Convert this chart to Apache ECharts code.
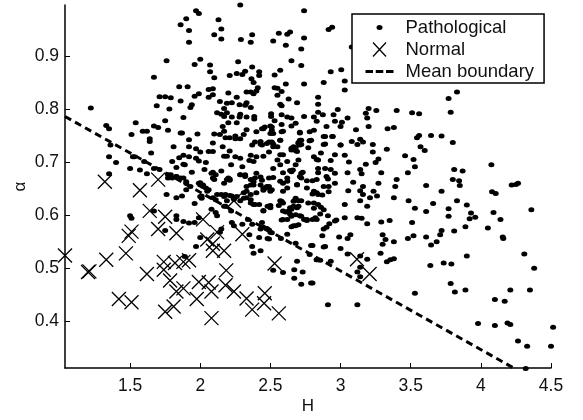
<!DOCTYPE html>
<html>
<head>
<meta charset="utf-8">
<style>html,body{margin:0;padding:0;background:#fff}#chart{width:583px;height:420px}</style>
<script src="https://cdn.jsdelivr.net/npm/echarts@6/dist/echarts.min.js"></script>
</head>
<body>
<div id="chart"></div>
<script>
// values: [H, alpha]
const pathological = [
[1.22,.802],[1.33,.769],[1.35,.763],[1.36,.732],[1.35,.710],[1.40,.699],[1.35,.678],[1.51,.752],[1.54,.774],[1.59,.758],[1.62,.758],[1.64,.744],[1.64,.739],[1.65,.717],[1.52,.710],[1.53,.710],[1.50,.688],[1.57,.685],[1.60,.701],[1.62,.678],[1.67,.688],[1.71,.686],
[1.67,.860],[1.76,.891],[1.85,.842],[1.91,.842],[1.86,.815],[1.71,.823],[1.75,.823],[1.79,.821],[1.69,.806],[1.78,.800],[1.75,.778],[1.67,.768],[1.70,.765],[1.77,.760],[1.88,.784],[1.94,.808],[1.93,.803],[1.96,.824],[1.99,.829],[1.86,.755],[1.87,.755],[1.98,.753],[1.92,.742],[1.81,.729],[1.92,.729],[1.88,.713],[1.92,.710],[1.85,.708],[1.80,.701],[1.83,.690],[1.88,.696],[1.89,.695],[1.97,.725],[2.00,.719],[1.97,.707],[1.99,.702],[2.04,.699],[2.03,.686],[1.94,.681],[1.77,.670],[1.79,.676],[1.83,.673],[1.86,.670],[1.90,.663],
[1.86,.959],[1.90,.970],[1.92,.948],[1.92,.926],[1.97,.985],[1.99,.980],[1.96,.884],[2.00,.894],[2.07,.883],[2.07,.870],[2.10,.859],[2.06,.837],[2.09,.838],[2.06,.822],[2.09,.827],[2.14,.814],[2.13,.968],[2.15,.951],[2.10,.940],[2.15,.932],[2.285,.996],[2.29,.931],[2.27,.889],[2.26,.867],[2.30,.865],[2.32,.871],[2.37,.879],[2.42,.870],[2.42,.863],[2.21,.863],[2.365,.857],[2.38,.850],[2.41,.840],[2.40,.834],[2.33,.832],[2.36,.832],[2.38,.829],[2.20,.830],[2.26,.822],[2.225,.812],[2.19,.811],[2.17,.801],[2.28,.808],[2.33,.812],[2.32,.807],[2.36,.803],[2.12,.793],[2.15,.790],[2.17,.786],[2.19,.793],[2.225,.785],[2.285,.790],[2.28,.785],[2.33,.785],[2.385,.786],[2.385,.781],[2.16,.767],[2.20,.774],[2.26,.774],[2.33,.761],[2.10,.753],[2.14,.752],[2.17,.758],[2.18,.746],[2.21,.746],[2.25,.749],[2.25,.744],[2.285,.744],[2.31,.752],[2.09,.736],[2.16,.729],[2.06,.720],[2.09,.720],[2.17,.711],[2.21,.721],[2.19,.711],[2.25,.710],[2.285,.707],[2.22,.695],[2.30,.691],[2.15,.683],[2.09,.681],[2.11,.676],[2.10,.667],[2.21,.668],[2.19,.667],[2.285,.676],[2.32,.676],[2.36,.713],[2.35,.703],[2.38,.701],[2.40,.710],[2.45,.711],[2.49,.719],[2.37,.732],[2.39,.738],[2.43,.739],[2.43,.734],[2.49,.738],[2.52,.734],[2.57,.741],[2.52,.729],[2.45,.763],[2.40,.757],[2.50,.768],[2.51,.760],[2.58,.757],[2.505,.791],[2.505,.786],[2.53,.778],[2.58,.771],[2.57,.809],[2.58,.806],[2.63,.819],[2.69,.812],[2.55,.826],[2.58,.833],[2.53,.840],[2.55,.839],[2.61,.847],[2.74,.847],[2.53,.864],[2.57,.873],[2.65,.891],[2.72,.882],[2.72,.913],[2.61,.920],[2.52,.928],[2.56,.943],[2.62,.941],[2.64,.945],[2.74,.934],[2.74,.985],[2.36,.926],[2.37,.940],[2.58,.789],[2.62,.785],[2.65,.783],[2.74,.786],[2.65,.768],[2.68,.773],[2.71,.755],[2.81,.785],[2.83,.777],[2.84,.822],[2.84,.809],[2.84,.794],[2.81,.760],[2.78,.757],[2.78,.740],[2.57,.714],[2.59,.714],[2.62,.701],[2.55,.704],[2.57,.695],[2.52,.688],[2.59,.680],[2.64,.684],[2.66,.685],[2.68,.695],[2.70,.704],[2.65,.726],[2.68,.722],[2.71,.732],[2.70,.737],[2.72,.741],[2.77,.727],[2.81,.710],[2.83,.705],[2.73,.681],[2.71,.673],[2.62,.670],[2.52,.671],[2.49,.670],[2.40,.679],[2.43,.672],[2.36,.667],[2.38,.663],[2.76,.665],[2.83,.667],
[2.915,.950],[2.94,.954],[3.08,.917],[2.93,.870],[3.005,.874],[2.88,.850],[3.03,.853],[3.03,.836],[2.874,.789],[2.95,.789],[2.98,.799],[2.96,.777],[3.01,.775],[3.05,.783],[3.00,.767],[2.90,.767],[3.20,.801],[3.18,.792],[3.255,.797],[3.19,.783],[3.20,.767],[3.11,.761],[3.40,.797],[3.51,.793],[3.56,.791],[3.335,.763],[3.38,.765],[3.56,.750],[3.545,.746],[3.645,.750],[3.72,.749],[3.80,.737],[3.57,.729],[3.60,.722],[3.46,.712],[3.52,.705],[3.53,.691],[3.48,.680],[3.33,.724],[3.23,.733],[3.23,.719],[3.27,.706],[3.25,.699],[3.18,.696],[3.14,.686],[3.15,.678],[3.29,.680],[3.40,.667],[3.27,.660],[3.09,.662],[3.16,.654],[3.39,.654],[3.05,.680],[2.96,.679],[2.93,.686],[2.89,.688],[2.84,.688],[2.84,.680],[2.90,.673],[2.91,.668],[2.80,.665],[2.96,.660],[2.915,.654],[2.88,.654],[3.06,.700],[3.03,.713],[2.96,.714],[2.93,.703],[2.86,.717],[2.84,.704],[3.08,.739],[3.12,.733],[3.14,.743],[3.16,.738],[3.00,.732],[2.88,.748],[2.945,.748],[2.89,.734],[2.79,.741],[3.77,.820],[3.83,.832],[3.785,.794],[3.81,.686],[3.87,.683],[3.80,.667],[3.845,.665],[3.85,.656],[4.075,.695],[4.22,.657],[4.25,.658],[4.265,.660],[3.61,.656],
[3.72,.645],[4.08,.644],[4.106,.641],[3.485,.627],[3.53,.613],[3.66,.622],[3.61,.607],[3.77,.612],[3.83,.627],[3.90,.619],[3.93,.604],[3.77,.598],[3.92,.593],[3.96,.596],[4.09,.605],[4.14,.592],[4.36,.610],[4.05,.576],[3.89,.578],[3.81,.570],[3.72,.571],[3.71,.563],[3.51,.586],[3.35,.590],[3.29,.587],[3.38,.633],[3.26,.636],[3.19,.617],[3.14,.627],[3.16,.639],[3.21,.633],[3.235,.645],[3.14,.646],[3.055,.646],[3.03,.620],[3.03,.595],[2.97,.591],[2.96,.589],[2.92,.584],[2.91,.599],[2.88,.610],[2.86,.615],[2.81,.613],[2.81,.623],[2.83,.592],[2.80,.592],[2.88,.574],[2.90,.577],[3.12,.595],[3.15,.594],[3.19,.584],[3.30,.563],[3.32,.554],[3.30,.545],[3.38,.550],[3.48,.556],[3.52,.561],[3.61,.559],[3.645,.544],[3.685,.550],[4.156,.559],[4.16,.556],[3.07,.563],[3.05,.556],[2.99,.559],[2.87,.561],[2.80,.543],[2.88,.540],[2.89,.541],[3.00,.537],[3.05,.527],[3.14,.523],[3.19,.517],[3.285,.528],[3.33,.512],[3.355,.516],[3.38,.518],[3.90,.523],[3.735,.510],[3.79,.508],[3.64,.505],[4.31,.527],[4.38,.500],[3.14,.502],[3.12,.493],[3.14,.484],[2.93,.513],[2.83,.516],[2.855,.515],[2.80,.472],[3.785,.471],[3.815,.455],[3.89,.459],[3.53,.453],[4.21,.459],[4.35,.459],[4.10,.441],[4.17,.438],[2.91,.431],[3.12,.431],[3.98,.396],[4.10,.392],[4.19,.397],[4.21,.394],[4.515,.389],[4.265,.363],[4.33,.353],[4.50,.353],[4.32,.311],[2.83,.642],[2.87,.638],[2.915,.644],[2.80,.640],
[1.50,.599],[1.51,.594],[1.76,.639],[1.83,.633],[1.96,.622],[1.75,.571],[1.67,.608],[1.83,.599],[1.83,.592],[1.88,.588],[1.92,.585],[1.96,.586],[1.99,.595],[1.97,.541],[2.00,.558],[2.08,.611],[2.11,.605],[2.12,.599],[1.89,.522],[2.22,.608],[2.17,.617],[2.19,.627],[2.24,.630],[2.285,.627],[2.33,.633],[2.36,.623],[2.39,.620],[2.45,.608],[2.50,.614],[2.49,.617],[2.57,.627],[2.59,.623],[2.63,.608],[2.69,.614],[2.665,.617],[2.70,.627],[2.68,.630],[2.59,.592],[2.64,.602],[2.71,.599],[2.76,.592],[2.82,.595],[2.665,.580],[2.70,.582],[2.225,.586],[2.24,.580],[2.30,.583],[2.34,.592],[2.37,.583],[2.43,.574],[2.475,.574],[2.50,.568],[2.35,.563],[2.42,.558],[2.49,.555],[2.37,.541],[2.38,.528],[2.43,.533],[2.62,.564],[2.575,.556],[2.68,.547],[2.79,.543],[2.78,.526],[2.83,.516],[2.69,.513],[2.67,.497],[2.73,.493],[2.67,.481],[2.72,.470],[2.79,.472],[2.52,.496],[2.59,.492],[2.14,.568],[2.15,.574],[1.90,.648],[2.00,.661],[2.02,.654],[2.05,.645],[2.01,.636],[2.09,.633],[2.15,.639],[2.18,.639],[2.225,.636],[2.31,.642],[2.36,.639],[2.40,.642],[2.45,.651],[2.50,.645],[2.59,.645],[2.62,.651],[2.69,.658],[2.76,.651],[2.81,.645],[2.84,.639],[2.77,.623],[2.72,.627],[2.84,.620],[2.64,.614],[2.59,.608],[2.855,.602],
[1.77,.676],[1.80,.670],[1.83,.673],[1.88,.670],[1.90,.660],[1.93,.654],[1.99,.660],[2.02,.657],[2.06,.648],[2.09,.670],[2.17,.660],[2.21,.666],[2.285,.676],[2.33,.654],[2.38,.657],[2.43,.657],[2.475,.651],[2.12,.639],[2.11,.629],[2.17,.635],[2.18,.617],[2.21,.637],[2.26,.635],[2.31,.632],[2.36,.629],[2.42,.620],[2.38,.620],[2.33,.645],[1.87,.636],[2.00,.635],[2.01,.632],[2.08,.679],[2.00,.657],[2.04,.651],[2.20,.670],[2.32,.673],[2.39,.670],[2.44,.666],[2.36,.657],
[2.71,.741],[2.70,.735],[2.68,.727],[2.65,.723],[2.72,.733],[2.69,.720],[2.665,.729],[2.44,.763],[2.46,.766],[2.51,.766],[2.50,.754],[2.52,.754],[2.51,.738],[2.475,.735],[2.44,.732],[2.57,.741],[2.55,.729],[2.59,.758],[2.71,.756],[2.78,.740],[2.89,.748],[2.94,.748],[2.88,.733],[3.00,.732],
[2.475,.654],[2.49,.654],[2.51,.648],[2.45,.647],[2.59,.660],[2.62,.664],[2.57,.664],[2.72,.670],[2.72,.679],[2.65,.682],[2.68,.632],[2.665,.626],[2.50,.618],[2.48,.617],[2.45,.609],[2.56,.618],[2.58,.626],[2.61,.606],[2.65,.611],[2.70,.617],[2.68,.601],[2.65,.598],[2.62,.592],[2.58,.591],[2.72,.598],[2.74,.592],[2.76,.590],[2.68,.580],[2.65,.578],[2.44,.586],[2.45,.577],[2.475,.575],[2.49,.572],[2.51,.567],[2.48,.556],[2.69,.657]
];
const normal = [
[1.32,.663],[1.70,.667],[1.57,.647],[1.036,.524],[1.20,.493],[1.21,.494],[1.33,.516],[1.47,.528],[1.49,.561],[1.51,.569],[1.62,.489],[1.64,.608],[1.75,.597],[1.70,.574],[1.83,.566],[1.74,.512],[1.74,.497],[1.82,.510],[1.88,.512],[1.92,.515],[1.785,.477],[1.83,.456],[1.88,.462],[1.975,.442],[1.99,.474],[2.06,.473],[2.08,.456],[2.18,.468],[2.24,.456],[2.33,.443],[2.37,.422],[2.46,.453],[2.455,.434],[2.56,.415],[2.185,.496],[2.53,.509],[2.08,.406],[1.81,.428],[1.75,.418],[1.42,.442],[1.51,.436],[2.02,.592],[2.24,.627],[2.30,.564],[2.05,.554],[2.09,.546],[2.12,.568],[2.09,.533],[2.17,.533],[3.117,.517],[3.207,.489]
];
const boundary = [[1.036,.786],[4.234,.312]];
const xTicks = [1.5,2,2.5,3,3.5,4,4.5];
const yTicks = [.4,.5,.6,.7,.8,.9];

const font = '"Liberation Sans", Arial, sans-serif';
const ink = '#111';
const cross = 'path://M0 0L10 10M10 0L0 10';

function axisBase(ticks, labelMargin) {
    return {
        axisLine: {show: true, onZero: false, lineStyle: {color: '#000', width: 1.5}},
        axisTick: {show: true, inside: true, length: 5, customValues: ticks, lineStyle: {color: '#000', width: 1}},
        axisLabel: {customValues: ticks, margin: labelMargin, color: ink, fontSize: 17.5, fontFamily: font, formatter: v => String(v)},
        splitLine: {show: false},
        nameLocation: 'middle',
        nameMoveOverlap: false,
        nameTextStyle: {color: ink, fontSize: 17, fontFamily: font}
    };
}

const chart = echarts.init(document.getElementById('chart'), null, {renderer: 'canvas'});
chart.setOption({
    animation: false,
    backgroundColor: '#fff',
    grid: {left: 65, right: 32, top: 5, bottom: 48},
    xAxis: Object.assign(axisBase(xTicks, 9), {type: 'value', min: 1.036, max: 4.5, name: 'H', nameGap: 30}),
    yAxis: Object.assign(axisBase(yTicks, 6), {type: 'value', min: .312, max: .996, name: 'α', nameGap: 36}),
    legend: {
        left: 352, top: 14, orient: 'vertical', align: 'left',
        itemWidth: 28, itemHeight: 14, itemGap: 3,
        padding: [4, 10, 2, 11],
        backgroundColor: '#fff', borderColor: '#000', borderWidth: 1.5, borderRadius: 0,
        textStyle: {color: ink, fontSize: 18.5, fontFamily: font, padding: [0, 0, 0, 7]},
        data: [
            {name: 'Pathological', icon: 'path://M0 0M28 14M11 7a3 2.5 0 1 0 6 0a3 2.5 0 1 0-6 0z', itemStyle: {color: '#000'}},
            {name: 'Normal', icon: 'path://M0 0M28 14M7.5 0L20.5 14M20.5 0L7.5 14', itemStyle: {color: 'none', borderColor: '#000', borderWidth: 1.3}},
            {name: 'Mean boundary', icon: 'path://M0 0M28 14M0 5.5h7.5v3H0zM10.25 5.5h7.5v3h-7.5zM20.5 5.5H28v3h-7.5z', itemStyle: {color: '#000'}}
        ]
    },
    series: [
        {name: 'Pathological', type: 'scatter', data: pathological, symbol: 'circle', symbolSize: [6, 5], clip: false, itemStyle: {color: '#000', opacity: 1}},
        {name: 'Mean boundary', type: 'line', data: boundary, symbol: 'none', lineStyle: {color: '#000', width: 3, type: [7, 4.5]}, itemStyle: {color: '#000'}, z: 3},
        {name: 'Normal', type: 'scatter', data: normal, symbol: cross, symbolSize: 14, clip: false, itemStyle: {color: 'none', borderColor: '#000', borderWidth: 1.3, opacity: 1}, z: 4}
    ]
});
</script>
</body>
</html>
